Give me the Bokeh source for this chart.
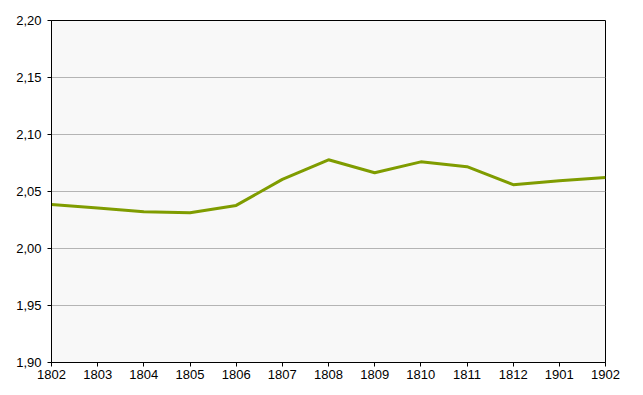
from bokeh.plotting import figure
from bokeh.models import FixedTicker, CustomJSTickFormatter, Range1d
from bokeh.embed import file_html
from bokeh.resources import INLINE

years = ["1802", "1803", "1804", "1805", "1806", "1807", "1808", "1809",
         "1810", "1811", "1812", "1901", "1902"]
values = [2.0386, 2.0355, 2.0322, 2.0313, 2.0378, 2.0606, 2.0778, 2.0665,
          2.0760, 2.0718, 2.0560, 2.0595, 2.0622]
y_ticks = [1.90, 1.95, 2.00, 2.05, 2.10, 2.15, 2.20]

x = list(range(len(years)))

p = figure(width=635, height=387, output_backend="svg", toolbar_location=None,
           x_range=Range1d(0, len(years) - 1), y_range=Range1d(1.90, 2.20),
           min_border_left=51, min_border_right=30, min_border_top=20,
           min_border_bottom=25)

p.background_fill_color = "#f8f8f8"
p.border_fill_color = "white"
p.outline_line_color = "black"
p.outline_line_width = 1

p.line(x, values, line_color="#7f9c00", line_width=3)

p.xgrid.visible = False
p.ygrid.grid_line_color = "#b4b4b4"
p.ygrid.grid_line_width = 1
p.ygrid.ticker = FixedTicker(ticks=y_ticks[1:-1])

p.xaxis.ticker = FixedTicker(ticks=x)
p.xaxis.major_label_overrides = {i: y for i, y in enumerate(years)}
p.yaxis.ticker = FixedTicker(ticks=y_ticks)
p.yaxis.formatter = CustomJSTickFormatter(code="return tick.toFixed(2).replace('.', ',');")

for ax in (p.xaxis[0], p.yaxis[0]):
    ax.axis_line_color = "black"
    ax.major_tick_line_color = "black"
    ax.major_tick_out = 4
    ax.major_tick_in = 0
    ax.minor_tick_line_color = None
    ax.major_label_text_font = "Liberation Sans"
    ax.major_label_text_font_size = "13px"
    ax.major_label_text_color = "black"

p.yaxis.major_label_standoff = 6
p.xaxis.major_label_standoff = 3

open("out.html", "w").write(file_html(p, INLINE))
